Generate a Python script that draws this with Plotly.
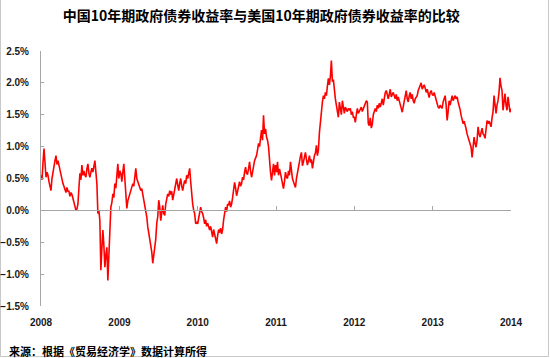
import pandas as pd
import plotly.graph_objects as go

# Spread (China 10y minus US 10y government bond yield), in percent, read per year
y2008 = [0.55, 0.48, 0.75, 0.97, 0.75, 0.52, 0.6, 0.55, 0.45, 0.38,
         0.31, 0.5, 0.62, 0.7, 0.78, 0.86, 0.72, 0.78, 0.7, 0.66,
         0.6, 0.5, 0.42, 0.38, 0.32, 0.28, 0.36, 0.3, 0.3, 0.22,
         0.28, 0.25, 0.19, 0.12, 0.08, 0.0, 0.02, 0.1, 0.35, 0.58,
         0.48, 0.71, 0.55, 0.62, 0.55, 0.52, 0.65, 0.73, 0.58, 0.52,
         0.6, 0.66, 0.6, 0.7, 0.78, 0.6, 0.42, -0.05, 0.0, -0.16,
         -0.94, -0.6, -0.31, -0.55, -0.89, -0.7, -0.58, -1.10, -0.75, -0.52,
         0.05, 0.12, 0.26, 0.2, 0.42, 0.35, 0.55, 0.73, 0.5]
y2009 = [0.62, 0.58, 0.45, 0.6, 0.73, 0.5, 0.31, 0.03, 0.15, 0.2,
         0.26, 0.32, 0.38, 0.42, 0.38, 0.5, 0.66, 0.5, 0.44, 0.4,
         0.36, 0.31, 0.34, 0.25, 0.16, 0.1, 0.03, -0.1, -0.26, -0.35,
         -0.45, -0.58, -0.65, -0.83, -0.72, -0.62, -0.45, -0.2, -0.1, 0.16,
         0.05, -0.16, 0.0, 0.08, -0.05, -0.08, 0.1, 0.2, 0.26, 0.22,
         0.31, 0.25, 0.3, 0.16, 0.25, 0.38, 0.45, 0.5, 0.4, 0.31,
         0.42, 0.5, 0.38, 0.31, 0.4, 0.47, 0.42, 0.55, 0.5, 0.6,
         0.66, 0.45, 0.19, 0.1, 0.0, -0.05, -0.21, -0.18, -0.21]
y2010 = [-0.1, 0.0, 0.05, -0.02, -0.05, -0.12, -0.21, -0.15, -0.25, -0.2,
         -0.28, -0.31, -0.25, -0.35, -0.42, -0.3, -0.38, -0.45, -0.52, -0.4,
         -0.3, -0.35, -0.28, -0.37, -0.3, -0.15, 0.0, 0.05, -0.02, 0.1,
         0.08, 0.15, 0.05, 0.1, 0.2, 0.3, 0.44, 0.35, 0.23, 0.3,
         0.36, 0.45, 0.38, 0.42, 0.52, 0.48, 0.6, 0.68, 0.58, 0.57,
         0.65, 0.76, 0.62, 0.52, 0.6, 0.7, 0.78, 0.82, 0.86, 0.95,
         1.05, 1.0, 1.15, 1.26, 1.1, 1.49, 1.2, 1.28, 1.15, 1.1,
         1.0, 0.73, 0.6, 0.47, 0.65, 0.73, 0.55, 0.71]
y2011 = [0.6, 0.76, 0.55, 0.65, 0.58, 0.5, 0.42, 0.34, 0.45, 0.6,
         0.52, 0.5, 0.62, 0.55, 0.76, 0.6, 0.5, 0.45, 0.4, 0.36,
         0.5, 0.6, 0.68, 0.76, 0.85, 0.91, 0.7, 0.76, 0.82, 0.91,
         0.8, 0.71, 0.78, 0.86, 0.75, 0.8, 0.66, 0.78, 0.86, 0.9,
         1.02, 0.86, 0.95, 1.22, 1.4, 1.6, 1.7, 1.8, 1.75, 1.85,
         1.8, 1.95, 2.07, 1.97, 2.1, 2.35, 2.02, 2.05, 1.85, 1.75,
         1.65, 1.55, 1.46, 1.7, 1.6, 1.5, 1.72, 1.6, 1.52, 1.62,
         1.57, 1.55, 1.6, 1.58, 1.6, 1.5, 1.55, 1.46]
y2012 = [1.46, 1.38, 1.5, 1.6, 1.52, 1.55, 1.6, 1.62, 1.55, 1.6,
         1.62, 1.68, 1.72, 1.7, 1.36, 1.33, 1.45, 1.29, 1.35, 1.5,
         1.55, 1.6, 1.55, 1.65, 1.6, 1.68, 1.62, 1.7, 1.75, 1.65,
         1.8, 1.85, 1.88, 1.8, 1.75, 1.82, 1.9, 1.78, 1.82, 1.85,
         1.8, 1.75, 1.82, 1.72, 1.78, 1.7, 1.62, 1.6, 1.54, 1.62,
         1.7, 1.8, 1.88, 1.75, 1.7, 1.8, 1.85, 1.75, 1.82, 1.72,
         1.68, 1.75, 1.78, 1.8, 1.88, 1.92, 1.95, 2.0, 1.9, 1.95,
         1.97, 1.92, 1.85, 1.9, 1.82, 1.77, 1.85, 1.88]
y2013 = [1.82, 1.8, 1.85, 1.78, 1.72, 1.65, 1.62, 1.6, 1.65, 1.62,
         1.6, 1.7, 1.75, 1.8, 1.65, 1.41, 1.55, 1.72, 1.65, 1.75,
         1.8, 1.72, 1.78, 1.8, 1.75, 1.78, 1.7, 1.65, 1.58, 1.49,
         1.42, 1.36, 1.4, 1.31, 1.28, 1.2, 1.15, 1.1, 1.05, 0.99,
         0.83, 1.0, 1.15, 1.05, 0.99, 1.1, 1.31, 1.2, 1.15, 1.22,
         1.29, 1.2, 1.18, 1.13, 1.25, 1.41, 1.36, 1.4, 1.36, 1.31,
         1.45, 1.55, 1.8, 1.6, 1.52, 1.65, 1.72, 1.85, 2.08, 1.95,
         1.88, 1.57, 1.75, 1.83, 1.65, 1.57, 1.78, 1.6, 1.54, 1.6]

start_date = "2008-01-01"
end_date = "2014-01-01"
year_ticks = ["2008-01-01", "2009-01-01", "2010-01-01", "2011-01-01",
              "2012-01-01", "2013-01-01", "2014-01-01"]
year_labels = ["2008", "2009", "2010", "2011", "2012", "2013", "2014"]
y_ticks = [-0.015, -0.01, -0.005, 0.0, 0.005, 0.01, 0.015, 0.02, 0.025]

title_text = "中国10年期政府债券收益率与美国10年期政府债券收益率的比较"
source_text = "来源：根据《贸易经济学》数据计算所得"

values = y2008 + y2009 + y2010 + y2011 + y2012 + y2013
spread = [v / 100 for v in values]
dates = pd.date_range(start_date, end_date, periods=len(values))

fig = go.Figure()
fig.add_trace(go.Scatter(x=dates, y=spread, mode="lines",
                         line=dict(color="#FF0000", width=1.6),
                         xaxis="x", yaxis="y", showlegend=False,
                         hoverinfo="x+y"))
# empty trace so the label axis renders
fig.add_trace(go.Scatter(x=[], y=[], xaxis="x2", yaxis="y", showlegend=False))

tick_font = dict(family="Liberation Sans, Arial", size=10, color="#1a1a1a")

fig.update_layout(
    width=550, height=358,
    margin=dict(l=41, r=39, t=51, b=52, autoexpand=False),
    paper_bgcolor="white", plot_bgcolor="white",
    font=dict(family="Liberation Sans, Arial", weight="bold"),
    title=dict(text=title_text, x=0.475, xanchor="center", y=0.955, yanchor="middle",
               font=dict(family="Noto Sans CJK SC", size=14, color="#000000", weight="bold")),
    xaxis=dict(
        type="date", range=[start_date, end_date],
        anchor="free", position=0.375,
        showline=True, linecolor="#a6a6a6", linewidth=1,
        ticks="inside", ticklen=4, tickcolor="#a6a6a6",
        tickvals=year_ticks, showticklabels=False,
        showgrid=False, zeroline=False,
    ),
    xaxis2=dict(
        type="date", range=[start_date, end_date], matches="x",
        overlaying="x", anchor="y", side="bottom",
        showline=False, ticks="", tickvals=year_ticks, ticktext=year_labels,
        tickfont=tick_font, ticklabelstandoff=9,
        showgrid=False, zeroline=False,
    ),
    yaxis=dict(
        range=[-0.015, 0.025], tickvals=y_ticks, tickformat=".1%",
        showline=True, linecolor="#a6a6a6", linewidth=1,
        ticks="inside", ticklen=3, tickcolor="#a6a6a6",
        tickfont=tick_font, ticklabelstandoff=9,
        showgrid=False, zeroline=False,
    ),
    shapes=[dict(type="rect", xref="paper", yref="paper",
                 x0=(0.5 - 41) / 470, x1=(548.5 - 41) / 470,
                 y0=(306 - 356.5) / 255, y1=(306 + 10) / 255,
                 line=dict(color="#c8c8c8", width=1), layer="below")],
    annotations=[dict(text=source_text, xref="paper", yref="paper",
                      x=(7 - 41) / 470, y=(306 - 351) / 255,
                      xanchor="left", yanchor="middle", showarrow=False,
                      font=dict(family="Noto Sans CJK SC", size=11, color="#000000",
                                weight="bold"))],
)

fig.write_html("out.html", config={"displayModeBar": False},
               post_script="document.body.style.margin='0';document.body.style.overflow='hidden';")
